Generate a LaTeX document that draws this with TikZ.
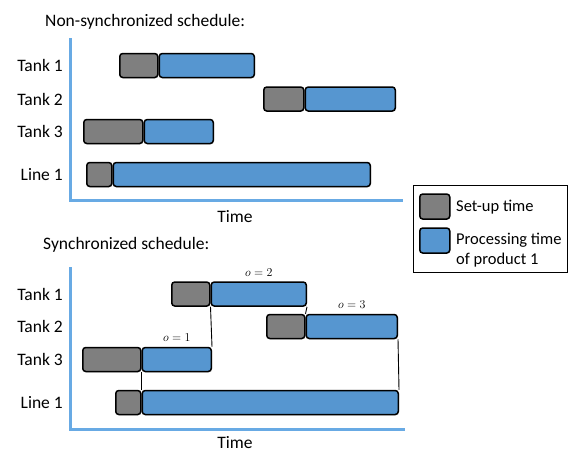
\documentclass[tikz,border=0pt]{standalone}
\usepackage{fontspec}
\setmainfont{Carlito}
\usetikzlibrary{positioning,shadows}
\definecolor{setupgray}{RGB}{127,127,127}
\definecolor{procblue}{RGB}{86,150,208}
\definecolor{axisblue}{RGB}{104,170,228}
\begin{document}
\begin{tikzpicture}[x=1pt,y=-1pt,
bar/.style={draw,line width=1.5pt,rounded corners=3pt,minimum height=24pt,inner sep=0pt,anchor=west,
  drop shadow={shadow xshift=0.8pt,shadow yshift=-0.8pt,opacity=0.3}},
setup/.style={bar,fill=setupgray},
proc/.style={bar,fill=procblue},
row/.style={anchor=east,inner sep=0pt,font=\fontsize{17.5}{20}\selectfont},
caption/.style={anchor=west,inner sep=0pt,font=\fontsize{17.5}{20}\selectfont},
olabel/.style={inner sep=1pt,font=\fontsize{12.5}{14}\selectfont},
link/.style={line width=0.9pt},
axis/.style={axisblue,line width=3pt}]
\useasboundingbox (0,0) rectangle (569,453);
% non-synchronized schedule
\node[caption] (NT) at (45,22) {Non-synchronized schedule:};
\draw[axis] (70,38) |- (403,200);
\foreach \lab/\y [count=\i] in {Tank 1/65.5,Tank 2/99,Tank 3/131.5,Line 1/174.5}
  \node[row] (NL\i) at (63,\y) {\lab};
\node[setup,minimum width=38pt] (N1s) at (119,65.5) {};
\node[proc,minimum width=95pt] (N1p) at (N1s.east) {};
\node[setup,minimum width=40pt] (N2s) at (263,99) {};
\node[proc,minimum width=90pt] (N2p) at (N2s.east) {};
\node[setup,minimum width=59pt] (N3s) at (83,131.5) {};
\node[proc,minimum width=69pt] (N3p) at (N3s.east) {};
\node[setup,minimum width=25pt] (N4s) at (86,174.5) {};
\node[proc,minimum width=257pt] (N4p) at (N4s.east) {};
\node[row,anchor=center] (NX) at (235,217) {Time};
% synchronized schedule
\node[caption] (ST) at (43,245) {Synchronized schedule:};
\draw[axis] (70,267) |- (405,429);
\foreach \lab/\y [count=\i] in {Tank 1/294,Tank 2/326.5,Tank 3/359.5,Line 1/402.5}
  \node[row] (SL\i) at (63,\y) {\lab};
\node[setup,minimum width=38pt] (S1s) at (171,294) {};
\node[proc,minimum width=95pt] (S1p) at (S1s.east) {};
\node[setup,minimum width=38pt] (S2s) at (266,326.5) {};
\node[proc,minimum width=91pt] (S2p) at (S2s.east) {};
\node[setup,minimum width=58pt] (S3s) at (82,359.5) {};
\node[proc,minimum width=69pt] (S3p) at (S3s.east) {};
\node[setup,minimum width=25pt] (S4s) at (115,402.5) {};
\node[proc,minimum width=256pt] (S4p) at (S4s.east) {};
\draw[link] (S3s.south east) -- (S4s.north east);
\draw[link] (S1s.south east) -- (S3p.north east);
\draw[link] (S1p.south east) -- (S2s.north east);
\draw[link] (S2p.south east) -- (S4p.north east);
\node[olabel,above=4pt of S3p] (O1) {$o=1$};
\node[olabel,above=4pt of S1p] (O2) {$o=2$};
\node[olabel,above=4pt of S2p] (O3) {$o=3$};
\node[row,anchor=center] (SX) at (235,443) {Time};
% legend
\draw[line width=0.8pt] (413,185) rectangle (567,272);
\node[setup,minimum width=30pt,minimum height=25pt] (LGs) at (419,206.5) {};
\node[caption,font=\fontsize{16.5}{20}\selectfont] (LGst) at (456,207) {Set-up time};
\node[proc,minimum width=30pt,minimum height=25pt] (LGp) at (419,240.5) {};
\node[caption,align=left,font=\fontsize{16.5}{20}\selectfont] (LGpt) at (456,250) {Processing time\\of product 1};
\end{tikzpicture}
\end{document}
